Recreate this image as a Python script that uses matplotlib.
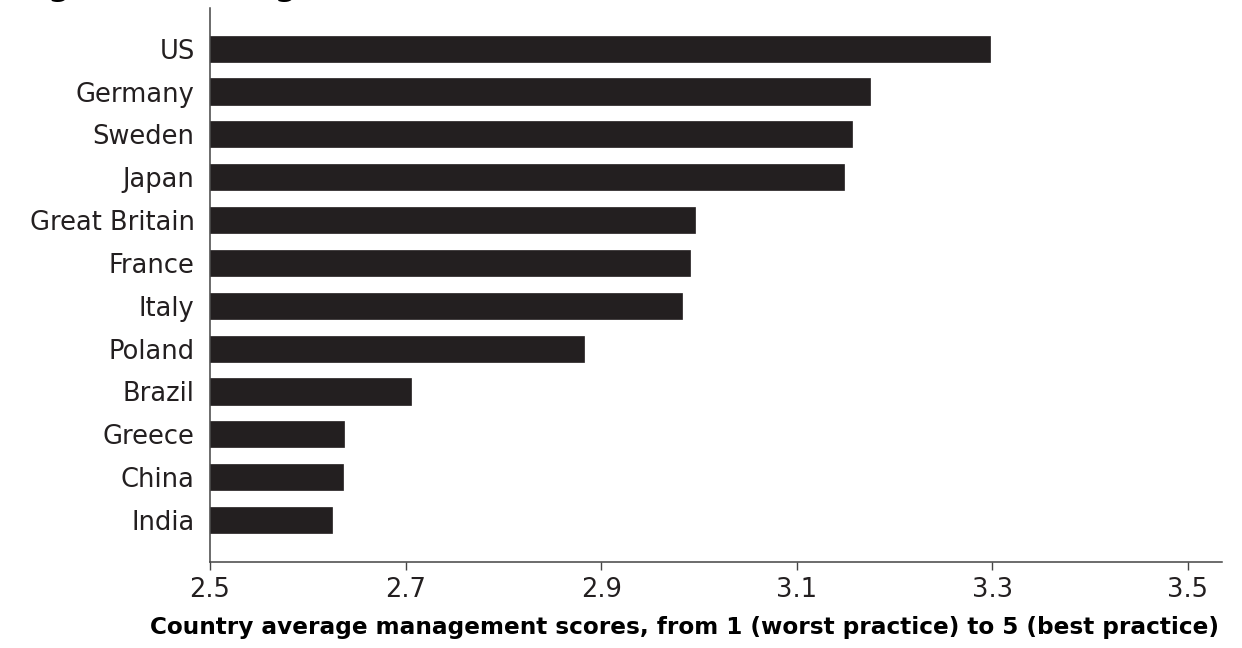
import matplotlib
matplotlib.use("Agg")
import matplotlib.pyplot as plt

countries = ["US", "Germany", "Sweden", "Japan", "Great Britain", "France",
             "Italy", "Poland", "Brazil", "Greece", "China", "India"]
scores = [3.298, 3.175, 3.157, 3.148, 2.996, 2.991, 2.983, 2.882, 2.706,
          2.637, 2.636, 2.625]
xticks = [2.5, 2.7, 2.9, 3.1, 3.3, 3.5]
xtick_labels = ["2.5", "2.7", "2.9", "3.1", "3.3", "3.5"]
xlabel = "Country average management scores, from 1 (worst practice) to 5 (best practice)"
title = "Figure 1: Management scores across countries"

plt.rcParams['font.family'] = ['DejaVu Sans']
dark = '#231f20'

fig = plt.figure(figsize=(12.42, 6.48), dpi=100)
ax = fig.add_axes([210/1242, 86/648, 1012/1242, 554/648])

n = len(countries)
ypos = list(range(n - 1, -1, -1))
ax.barh(ypos, [s - 2.5 for s in scores], left=2.5, height=0.61,
        color=dark, edgecolor=dark, linewidth=0.5)

ax.set_xlim(2.5, 3.535)
ax.set_ylim(-0.98, 11.95)
ax.set_yticks(ypos)
ax.set_yticklabels(countries, fontsize=18.5, color=dark)
ax.set_xticks(xticks)
ax.set_xticklabels(xtick_labels, fontsize=18.5, color=dark)
ax.tick_params(axis='y', length=0, pad=11)
ax.tick_params(axis='x', direction='out', length=6, width=1, color='#444444', pad=5)

for s in ['top', 'right']:
    ax.spines[s].set_visible(False)
for s in ['left', 'bottom']:
    ax.spines[s].set_color('#444444')
    ax.spines[s].set_linewidth(1.1)

fig.text(685/1242, (648-634)/648, xlabel, ha='center', va='baseline',
         fontsize=16.7, fontweight='bold', color='black')
fig.text(17/1242, 1 + 3.6/648, title, ha='left', va='baseline',
         fontsize=22, fontweight='bold', color='black')

fig.savefig("out.png", dpi=100)
